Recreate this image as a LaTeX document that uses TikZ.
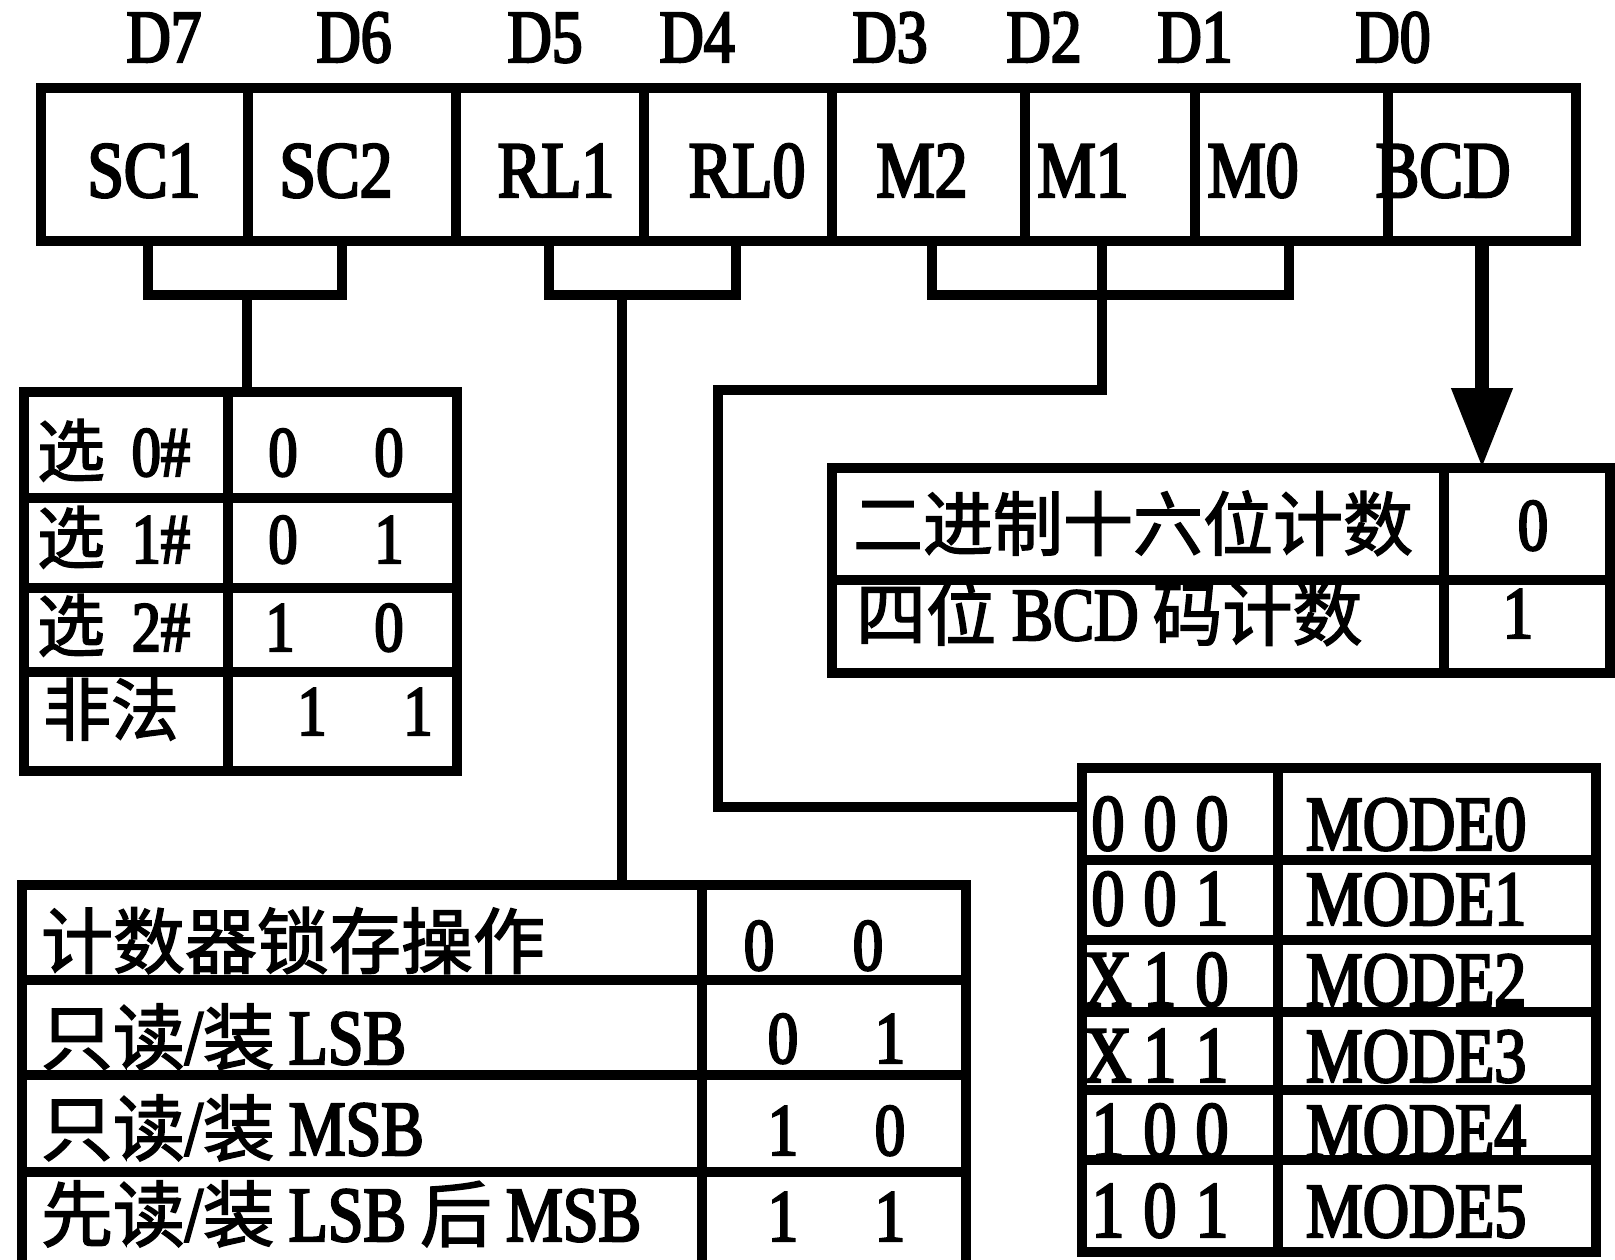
\documentclass[tikz,border=0pt]{standalone}
\usepackage{fontspec}
\newfontfamily\latf{Liberation Serif}[FakeStretch=0.82,FakeBold=3]
\newfontfamily\cjkf{Noto Sans CJK SC}[FakeBold=2]
\usetikzlibrary{arrows.meta}
\newcommand\zh[1]{{\cjkf #1}}
\newcommand\trip[3]{\makebox[52pt]{#1}\makebox[52pt]{#2}\makebox[52pt]{#3}}
\begin{document}
\begin{tikzpicture}[x=1pt,y=-1pt,line join=miter,
  frame/.style={draw,rectangle,line width=10pt,inner sep=0pt,outer sep=0pt},
  gridline/.style={line width=10pt},
  wire/.style={line width=9.5pt},
  tc/.style={inner sep=0pt,outer sep=0pt,anchor=base},
  tl/.style={inner sep=0pt,outer sep=0pt,anchor=base west},
  dlab/.style={tc,font=\latf\fontsize{75}{80}\selectfont},
  rlab/.style={tc,font=\latf\fontsize{80}{90}\selectfont},
  sctxt/.style={tl,font=\fontsize{68}{75}\selectfont},
  scdig/.style={tc,font=\latf\fontsize{71}{75}\selectfont},
  bcdtxt/.style={tl,font=\fontsize{70}{75}\selectfont},
  bcddig/.style={tc,font=\latf\fontsize{74}{80}\selectfont},
  rltxt/.style={tl,font=\fontsize{72}{80}\selectfont},
  rldig/.style={tc,font=\latf\fontsize{74}{80}\selectfont},
  mdig/.style={tl,font=\latf\fontsize{80}{85}\selectfont},
  mlab/.style={tl,font=\latf\fontsize{78}{85}\selectfont}]
\useasboundingbox (0,0) rectangle (1615,1260);
\fill[white] (0,0) rectangle (1615,1260);
\clip (0,0) rectangle (1615,1260);

% ---- bit labels
\node[dlab] (d7) at (164,62) {D7};
\node[dlab] (d6) at (354,62) {D6};
\node[dlab] (d5) at (545,62) {D5};
\node[dlab] (d4) at (697,62) {D4};
\node[dlab] (d3) at (890,62) {D3};
\node[dlab] (d2) at (1044,62) {D2};
\node[dlab] (d1) at (1195,62) {D1};
\node[dlab] (d0) at (1393,62) {D0};

% ---- control word register
\node[frame,minimum width=1535pt,minimum height=153pt] (reg) at (808.5,164.5) {};
\foreach \x in {248,456,644,832,1025,1195,1388}
  \draw[gridline] (\x,88) -- (\x,241);
\node[rlab] (sc1) at (144,197) {SC1};
\node[rlab] (sc2) at (336,197) {SC2};
\node[rlab] (rl1) at (556,197) {RL1};
\node[rlab] (rl0) at (747,197) {RL0};
\node[rlab] (m2) at (922,197) {M2};
\node[rlab] (m1) at (1083,197) {M1};
\node[rlab] (m0) at (1253,197) {M0};
\node[rlab] (bcd) at (1443,197) {BCD};

% ---- SC table
\node[frame,minimum width=433pt,minimum height=379pt] (sctab) at (240.5,581.5) {};
\draw[gridline] (228,392) -- (228,771);
\foreach \y in {498,588,672} \draw[gridline] (24,\y) -- (457,\y);
\node[sctxt] (sca) at (37,476) {\zh{选}\makebox[85pt][r]{\latf\fontsize{71}{75}\selectfont 0\#}};
\node[sctxt] (scb) at (37,563) {\zh{选}\makebox[85pt][r]{\latf\fontsize{71}{75}\selectfont 1\#}};
\node[sctxt] (scc) at (37,651) {\zh{选}\makebox[85pt][r]{\latf\fontsize{71}{75}\selectfont 2\#}};
\node[sctxt] (scd) at (43,735) {\zh{非法}};
\node[scdig] (sca1) at (283,476) {0};
\node[scdig] (sca2) at (389,476) {0};
\node[scdig] (scb1) at (283,563) {0};
\node[scdig] (scb2) at (389,563) {1};
\node[scdig] (scc1) at (280,651) {1};
\node[scdig] (scc2) at (389,651) {0};
\node[scdig] (scd1) at (312,735) {1};
\node[scdig] (scd2) at (418,735) {1};

% ---- BCD table
\node[frame,minimum width=778pt,minimum height=205pt] (bcdtab) at (1221,570.5) {};
\draw[gridline] (1444,468) -- (1444,673);
\draw[gridline] (832,580) -- (1610,580);
\node[bcdtxt] (bina) at (853,550) {\zh{二进制十六位计数}};
\node[bcdtxt] (binb) at (856,640) {\zh{四位}\hspace{16pt}{\latf\fontsize{75}{80}\selectfont BCD}\hspace{14pt}\zh{码计数}};
\node[bcddig] (bcd0) at (1533,550) {0};
\node[bcddig] (bcd1) at (1518,638) {1};

% ---- RL table
\node[frame,minimum width=944pt,minimum height=425pt] (rltab) at (494,1097.5) {};
\draw[gridline] (702,885) -- (702,1310);
\foreach \y in {980,1075,1172} \draw[gridline] (22,\y) -- (966,\y);
\node[rltxt] (rla) at (41,968) {\zh{计数器锁存操作}};
\node[rltxt] (rlb) at (41,1064) {\zh{只读}{\latf\fontsize{78}{85}\selectfont /}\zh{装}\hspace{14pt}{\latf\fontsize{78}{85}\selectfont LSB}};
\node[rltxt] (rlc) at (41,1155) {\zh{只读}{\latf\fontsize{78}{85}\selectfont /}\zh{装}\hspace{14pt}{\latf\fontsize{78}{85}\selectfont MSB}};
\node[rltxt] (rld) at (41,1241) {\zh{先读}{\latf\fontsize{78}{85}\selectfont /}\zh{装}\hspace{14pt}{\latf\fontsize{78}{85}\selectfont LSB}\hspace{14pt}\zh{后}\hspace{14pt}{\latf\fontsize{78}{85}\selectfont MSB}};
\node[rldig] (rla1) at (759,970) {0};
\node[rldig] (rla2) at (868,970) {0};
\node[rldig] (rlb1) at (783,1063) {0};
\node[rldig] (rlb2) at (890,1063) {1};
\node[rldig] (rlc1) at (783,1155) {1};
\node[rldig] (rlc2) at (890,1155) {0};
\node[rldig] (rld1) at (783,1241) {1};
\node[rldig] (rld2) at (890,1241) {1};

% ---- MODE table
\node[frame,minimum width=514pt,minimum height=484pt] (modetab) at (1339,1010) {};
\draw[gridline] (1278,768) -- (1278,1252);
\foreach \y in {860,940,1012,1090,1160} \draw[gridline] (1082,\y) -- (1596,\y);
\node[mdig] (mc0) at (1082,850) {\trip000};
\node[mdig] (mc1) at (1082,925) {\trip001};
\node[mdig] (mc2) at (1082,1006) {\trip X10};
\node[mdig] (mc3) at (1082,1082) {\trip X11};
\node[mdig] (mc4) at (1082,1157) {\trip100};
\node[mdig] (mc5) at (1082,1237) {\trip101};
\node[mlab] (md0) at (1306,850) {MODE0};
\node[mlab] (md1) at (1306,925) {MODE1};
\node[mlab] (md2) at (1306,1006) {MODE2};
\node[mlab] (md3) at (1306,1082) {MODE3};
\node[mlab] (md4) at (1306,1157) {MODE4};
\node[mlab] (md5) at (1306,1237) {MODE5};

% ---- brackets and connectors
\coordinate (scstem) at (247,295);
\coordinate (rlstem) at (622,295);
\coordinate (mstem) at (1102,241);
\coordinate (bcdsrc) at (1482,241);
\draw[wire] (148,241) -- (148,295) -- (342,295) -- (342,241);
\draw[wire] (549,241) -- (549,295) -- (736,295) -- (736,241);
\draw[wire] (932,241) -- (932,295) -- (1289,295) -- (1289,241);
\draw[wire] (scstem) -- (scstem |- sctab.north);
\draw[wire] (rlstem) -- (rlstem |- rltab.north);
\draw[wire] (mstem) -- (1102,390) -- (718,390) -- (718,807) -- (modetab.west |- 0,807);
\draw[line width=14pt,-{Triangle[length=80pt,width=58pt]}] (bcdsrc) -- (bcdsrc |- bcdtab.north);
\end{tikzpicture}
\end{document}
